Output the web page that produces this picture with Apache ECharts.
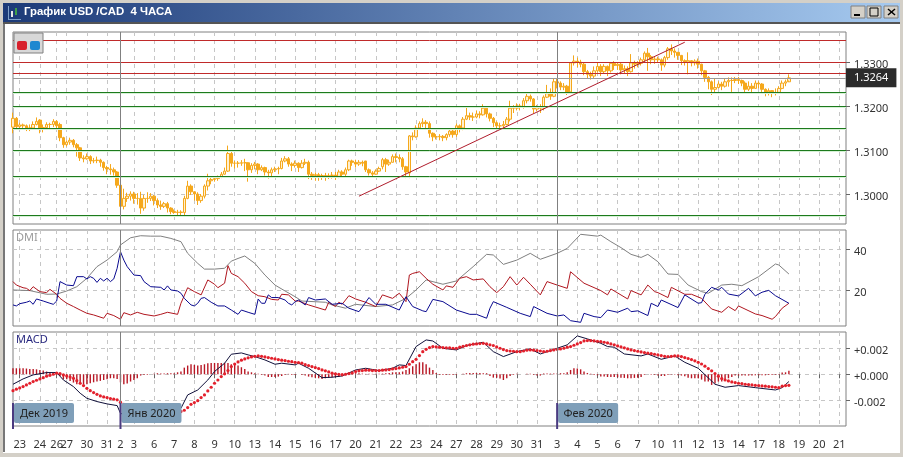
<!DOCTYPE html>
<html>
<head>
<meta charset="utf-8">
<style>html,body{margin:0;padding:0;background:#fff}#chart{width:903px;height:457px}</style>
<script src="https://cdn.jsdelivr.net/npm/echarts@6/dist/echarts.min.js"></script>
</head>
<body>
<div id="chart"></div>
<script>
// 4H bars, one slot per bar. data stops at bar 231, the rest of the axis is empty
var slotCount = 249;
var tickIndex = [2,8,13,16,22,28,32,36,42,48,54,60,66,72,78,84,90,96,102,108,114,120,126,132,138,144,150,156,162,168,174,180,186,192,198,204,210,216,222,228,234,240,246];
var tickLabels = ['23','24','26','27','30','31','2','3','6','7','8','9','10','13','14','15','16','17','20','21','22','23','24','27','28','29','30','31','3','4','5','6','7','10','11','12','13','14','17','18','19','20','21'];
var monthIndex = [0,32,162];
var monthNames = ['Дек 2019','Янв 2020','Фев 2020'];

var opens = [1.3152,1.3172,1.3153,1.3157,1.3155,1.3150,1.3150,1.3158,1.3168,1.3150,1.3151,1.3158,
1.3158,1.3165,1.3158,1.3128,1.3112,1.3118,1.3122,1.3112,1.3105,1.3082,1.3080,1.3085,
1.3075,1.3076,1.3077,1.3072,1.3060,1.3057,1.3055,1.3050,1.3020,1.2972,1.2990,1.2995,
1.3000,1.2990,1.2990,1.2968,1.2990,1.2990,1.2995,1.2985,1.2975,1.2972,1.2978,1.2968,
1.2960,1.2958,1.2959,1.2958,1.2990,1.3018,1.3005,1.3000,1.2985,1.2995,1.3018,1.3030,
1.3033,1.3035,1.3038,1.3045,1.3052,1.3092,1.3070,1.3070,1.3070,1.3071,1.3071,1.3055,
1.3065,1.3068,1.3055,1.3060,1.3050,1.3048,1.3055,1.3057,1.3058,1.3075,1.3080,1.3068,
1.3065,1.3070,1.3060,1.3070,1.3072,1.3045,1.3042,1.3044,1.3040,1.3042,1.3039,1.3042,
1.3043,1.3040,1.3050,1.3045,1.3055,1.3075,1.3072,1.3068,1.3072,1.3075,1.3055,1.3048,
1.3045,1.3052,1.3062,1.3078,1.3068,1.3072,1.3085,1.3083,1.3080,1.3062,1.3048,1.3132,
1.3130,1.3150,1.3160,1.3163,1.3160,1.3138,1.3130,1.3130,1.3131,1.3128,1.3135,1.3143,
1.3135,1.3155,1.3150,1.3170,1.3178,1.3175,1.3175,1.3182,1.3180,1.3195,1.3182,1.3172,
1.3162,1.3155,1.3155,1.3158,1.3170,1.3195,1.3195,1.3200,1.3198,1.3212,1.3222,1.3216,
1.3193,1.3198,1.3195,1.3220,1.3228,1.3222,1.3255,1.3252,1.3243,1.3245,1.3232,1.3298,
1.3302,1.3300,1.3295,1.3278,1.3272,1.3268,1.3280,1.3290,1.3278,1.3290,1.3280,1.3297,
1.3292,1.3295,1.3282,1.3285,1.3278,1.3298,1.3295,1.3297,1.3305,1.3320,1.3312,1.3305,
1.3307,1.3305,1.3293,1.3310,1.3330,1.3325,1.3322,1.3315,1.3303,1.3300,1.3303,1.3298,
1.3302,1.3295,1.3280,1.3265,1.3255,1.3238,1.3242,1.3250,1.3245,1.3255,1.3258,1.3258,
1.3260,1.3258,1.3252,1.3238,1.3245,1.3240,1.3252,1.3250,1.3238,1.3232,1.3235,1.3230,
1.3231,1.3240,1.3252,1.3255];
var closes = [1.3172,1.3153,1.3157,1.3155,1.3150,1.3150,1.3158,1.3165,1.3150,1.3151,1.3158,1.3158,
1.3165,1.3155,1.3128,1.3112,1.3118,1.3122,1.3112,1.3105,1.3082,1.3080,1.3085,1.3075,
1.3076,1.3077,1.3072,1.3060,1.3057,1.3055,1.3050,1.3020,1.2972,1.2990,1.2995,1.3000,
1.2990,1.2990,1.2968,1.2990,1.2990,1.2995,1.2985,1.2975,1.2972,1.2978,1.2968,1.2960,
1.2958,1.2959,1.2958,1.2990,1.3018,1.3005,1.3000,1.2985,1.2995,1.3018,1.3030,1.3033,
1.3035,1.3038,1.3045,1.3052,1.3092,1.3070,1.3070,1.3070,1.3071,1.3071,1.3055,1.3065,
1.3068,1.3055,1.3060,1.3050,1.3048,1.3055,1.3057,1.3058,1.3075,1.3080,1.3068,1.3065,
1.3070,1.3060,1.3070,1.3072,1.3045,1.3042,1.3044,1.3040,1.3042,1.3039,1.3042,1.3043,
1.3040,1.3050,1.3045,1.3055,1.3075,1.3072,1.3068,1.3072,1.3070,1.3055,1.3048,1.3045,
1.3052,1.3058,1.3078,1.3068,1.3072,1.3085,1.3083,1.3080,1.3062,1.3050,1.3132,1.3130,
1.3150,1.3160,1.3163,1.3160,1.3138,1.3130,1.3130,1.3131,1.3128,1.3135,1.3143,1.3135,
1.3155,1.3150,1.3170,1.3178,1.3175,1.3175,1.3182,1.3180,1.3195,1.3182,1.3172,1.3162,
1.3155,1.3155,1.3158,1.3170,1.3195,1.3195,1.3200,1.3198,1.3212,1.3222,1.3216,1.3193,
1.3198,1.3195,1.3220,1.3228,1.3222,1.3255,1.3252,1.3243,1.3245,1.3232,1.3298,1.3302,
1.3300,1.3295,1.3278,1.3272,1.3268,1.3280,1.3290,1.3278,1.3290,1.3280,1.3297,1.3292,
1.3295,1.3282,1.3285,1.3278,1.3298,1.3295,1.3297,1.3305,1.3320,1.3312,1.3305,1.3307,
1.3305,1.3293,1.3310,1.3330,1.3325,1.3322,1.3315,1.3303,1.3300,1.3303,1.3298,1.3302,
1.3295,1.3280,1.3265,1.3255,1.3238,1.3242,1.3250,1.3245,1.3255,1.3258,1.3258,1.3260,
1.3258,1.3252,1.3238,1.3245,1.3240,1.3252,1.3250,1.3238,1.3232,1.3235,1.3230,1.3231,
1.3240,1.3252,1.3255,1.3264];
var lows = [1.3138,1.3148,1.3148,1.3146,1.3143,1.3143,1.3146,1.3156,1.3138,1.3140,1.3150,1.3150,
1.3152,1.3148,1.3120,1.3105,1.3108,1.3112,1.3106,1.3085,1.3075,1.3072,1.3078,1.3068,
1.3070,1.3070,1.3062,1.3053,1.3045,1.3044,1.3042,1.3014,1.2965,1.2965,1.2982,1.2985,
1.2978,1.2976,1.2955,1.2962,1.2980,1.2984,1.2974,1.2968,1.2964,1.2968,1.2958,1.2954,
1.2955,1.2952,1.2950,1.2948,1.2988,1.2998,1.2985,1.2975,1.2980,1.2990,1.3008,1.3022,
1.3028,1.3030,1.3036,1.3044,1.3050,1.3062,1.3058,1.3060,1.3064,1.3052,1.3028,1.3048,
1.3056,1.3045,1.3052,1.3042,1.3035,1.3040,1.3050,1.3045,1.3056,1.3072,1.3062,1.3052,
1.3060,1.3050,1.3058,1.3066,1.3034,1.3032,1.3030,1.3030,1.3032,1.3030,1.3034,1.3035,
1.3032,1.3036,1.3038,1.3040,1.3052,1.3064,1.3060,1.3064,1.3063,1.3050,1.3042,1.3040,
1.3044,1.3050,1.3056,1.3050,1.3064,1.3072,1.3072,1.3072,1.3055,1.3036,1.3036,1.3122,
1.3128,1.3148,1.3152,1.3150,1.3128,1.3120,1.3124,1.3122,1.3120,1.3122,1.3130,1.3128,
1.3130,1.3140,1.3145,1.3168,1.3168,1.3166,1.3172,1.3172,1.3178,1.3174,1.3165,1.3152,
1.3148,1.3148,1.3150,1.3156,1.3165,1.3184,1.3190,1.3190,1.3194,1.3206,1.3210,1.3183,
1.3188,1.3184,1.3190,1.3218,1.3214,1.3220,1.3240,1.3236,1.3236,1.3225,1.3228,1.3292,
1.3288,1.3288,1.3270,1.3262,1.3260,1.3262,1.3276,1.3268,1.3274,1.3268,1.3276,1.3282,
1.3282,1.3272,1.3275,1.3268,1.3276,1.3285,1.3288,1.3292,1.3300,1.3280,1.3295,1.3296,
1.3298,1.3280,1.3288,1.3305,1.3316,1.3310,1.3305,1.3293,1.3292,1.3272,1.3290,1.3292,
1.3285,1.3270,1.3255,1.3238,1.3225,1.3228,1.3240,1.3236,1.3242,1.3244,1.3232,1.3252,
1.3250,1.3245,1.3230,1.3234,1.3228,1.3240,1.3240,1.3232,1.3222,1.3224,1.3220,1.3224,
1.3228,1.3238,1.3245,1.3258];
var highs = [1.3185,1.3175,1.3162,1.3160,1.3158,1.3158,1.3165,1.3174,1.3170,1.3158,1.3163,1.3162,
1.3170,1.3168,1.3162,1.3130,1.3122,1.3128,1.3125,1.3116,1.3107,1.3088,1.3092,1.3088,
1.3082,1.3085,1.3080,1.3074,1.3064,1.3068,1.3060,1.3052,1.3024,1.3012,1.3003,1.3006,
1.3005,1.3002,1.3005,1.2998,1.3004,1.3002,1.2998,1.2990,1.2985,1.2982,1.2982,1.2970,
1.2965,1.2964,1.2963,1.2996,1.3030,1.3022,1.3006,1.3004,1.3000,1.3022,1.3046,1.3038,
1.3038,1.3042,1.3050,1.3060,1.3110,1.3096,1.3075,1.3075,1.3077,1.3080,1.3072,1.3070,
1.3073,1.3070,1.3065,1.3062,1.3055,1.3060,1.3062,1.3062,1.3082,1.3086,1.3084,1.3072,
1.3076,1.3072,1.3077,1.3080,1.3076,1.3050,1.3049,1.3048,1.3046,1.3048,1.3047,1.3050,
1.3050,1.3055,1.3054,1.3060,1.3078,1.3078,1.3078,1.3077,1.3076,1.3074,1.3058,1.3052,
1.3056,1.3062,1.3082,1.3082,1.3078,1.3090,1.3092,1.3090,1.3084,1.3064,1.3134,1.3140,
1.3156,1.3165,1.3172,1.3168,1.3165,1.3140,1.3136,1.3136,1.3134,1.3138,1.3148,1.3147,
1.3160,1.3158,1.3175,1.3200,1.3185,1.3185,1.3190,1.3188,1.3204,1.3200,1.3185,1.3175,
1.3165,1.3162,1.3166,1.3175,1.3212,1.3202,1.3206,1.3205,1.3218,1.3228,1.3226,1.3218,
1.3202,1.3204,1.3224,1.3248,1.3240,1.3262,1.3262,1.3256,1.3252,1.3248,1.3300,1.3315,
1.3310,1.3305,1.3298,1.3282,1.3278,1.3290,1.3298,1.3295,1.3295,1.3292,1.3300,1.3302,
1.3300,1.3298,1.3292,1.3290,1.3318,1.3303,1.3302,1.3310,1.3324,1.3332,1.3316,1.3312,
1.3312,1.3308,1.3314,1.3334,1.3340,1.3331,1.3322,1.3316,1.3306,1.3322,1.3304,1.3306,
1.3308,1.3296,1.3282,1.3268,1.3258,1.3262,1.3256,1.3255,1.3262,1.3265,1.3265,1.3266,
1.3266,1.3260,1.3256,1.3256,1.3252,1.3258,1.3256,1.3252,1.3240,1.3240,1.3236,1.3240,
1.3245,1.3258,1.3260,1.3272];

// horizontal support/resistance lines on the price panel
var redLevels = [1.33489,1.33,1.3275];
var greenLevels = [1.32307,1.3199,1.31489,1.30989,1.30398,1.29523];
var lastPrice = 1.3264;
var trendFrom = [103,1.2995];
var trendTo = [200,1.3345];

// DMI: [bar, value] read at the line's corners
var adxPoints = [[0,20],[5,19.7],[10,17.9],[13,18],[16,19.5],[19,21.6],[22,25.7],[25,31.4],[28,34.6],[31,38.7],[32,42],[35,45.5],[38,46.5],[41,46.3],[44,46.3],[47,45.2],[50,43.6],[52,37.9],[55,33],[57,30.2],[60,30.2],[63,30.6],[65,34.1],[67,35.4],[69,36.6],[72,33],[75,27.3],[78,22.4],[81,19.5],[84,16.7],[86,14.6],[93,14],[95,12.7],[99,11.1],[102,13],[108,11.9],[113,12.7],[117,15.9],[120,20],[123,24.9],[128,22.8],[132,24.4],[137,31.4],[141,37.4],[143,37.1],[146,32.5],[150,34.6],[154,37.9],[157,35],[162,37.9],[165,40.3],[169,47.2],[174,46.3],[175,46.8],[178,43.6],[181,40.7],[184,37.4],[187,35.9],[189,37.4],[192,33.8],[195,27.8],[198,27.6],[201,22.4],[205,19.2],[207,18.4],[211,22.4],[214,22.8],[217,22.1],[222,26.5],[227,32.7],[228,32.2],[231,27.8]];
var minusDiPoints = [[0,12.7],[1,12.2],[2,13.3],[4,14],[5,14.6],[6,13],[7,15.6],[9,14.6],[11,13.5],[12,13],[13,14.6],[14,24.1],[16,22.4],[18,22.1],[19,26.5],[21,26.5],[22,25.4],[23,26.5],[24,25.7],[25,23.7],[26,25.7],[27,24.4],[28,25.7],[29,24.1],[30,25.4],[31,30.6],[32,38.7],[33,34.6],[34,31.4],[36,27.3],[38,27],[39,24.1],[41,21.6],[44,21.3],[45,20],[46,22],[47,20],[49,19.5],[50,18.4],[51,15.9],[53,12.7],[54,12.2],[55,13.5],[56,15.9],[57,16.3],[59,14],[61,12.2],[63,12.2],[65,10.2],[67,8.1],[68,10.2],[70,9.1],[72,8.1],[73,15.6],[74,13.5],[75,13.5],[76,17.6],[77,16.3],[79,16.3],[81,15.1],[82,13.5],[83,12.7],[84,14.3],[85,15.1],[87,12.7],[88,16.3],[90,15.1],[93,15.6],[95,13],[98,13.5],[100,11.1],[103,9.4],[106,16.3],[108,13],[111,13],[115,10.2],[117,16.7],[119,11.9],[122,9.8],[123,9.4],[125,15.4],[128,14.3],[132,10.2],[136,8.1],[138,8.1],[141,6.2],[142,11.1],[143,14.3],[147,11.5],[151,8.6],[154,7],[155,11.9],[159,8.6],[162,7.3],[164,7.8],[166,5],[169,4.2],[170,8.6],[173,7],[175,6.5],[177,10.2],[180,9.1],[183,11.1],[184,9.4],[186,9.8],[189,7.5],[190,13.5],[192,11.9],[193,15.1],[198,11.4],[200,17.6],[204,13.5],[205,13.8],[206,17.9],[208,21.3],[210,20],[211,21.3],[213,18],[216,17.1],[219,20.8],[221,17.1],[223,18.9],[225,19.8],[227,17.2],[231,13.5]];
var plusDiPoints = [[0,24.1],[1,22.4],[3,21.1],[4,20.8],[5,19.7],[6,21.6],[8,19.2],[10,18.7],[11,20.3],[13,17.9],[14,15.9],[16,13.5],[18,11.9],[20,10.2],[22,8.6],[24,7.8],[27,6.2],[28,8.6],[30,7.5],[32,5.7],[33,8.9],[35,7.8],[37,9.1],[39,8.1],[42,7.3],[44,8.1],[46,9.1],[49,8.1],[50,13.5],[52,21.1],[54,19.2],[56,17.6],[58,24.9],[60,22.8],[61,21.1],[63,23.3],[64,31.9],[65,28.1],[67,26.5],[69,23.3],[71,19.2],[73,17.2],[75,16.7],[77,15.4],[79,15.1],[80,17.9],[82,17.6],[84,14.6],[85,14.6],[88,12.7],[93,10.2],[94,14],[96,11.9],[97,14],[98,13],[100,17.2],[102,15.6],[105,14],[108,11.9],[110,17.6],[113,15.9],[115,18.4],[117,14.3],[118,27.3],[119,28.1],[121,28.9],[123,25.7],[125,22.8],[128,20],[129,22],[131,21.3],[133,25.7],[135,26.5],[137,24.9],[140,25.4],[142,21.6],[144,18.7],[146,21.6],[148,26.5],[150,22.4],[152,26.2],[154,22.8],[157,17.6],[159,24.1],[162,22.4],[165,20.8],[166,28.9],[170,23.3],[175,19.7],[177,17.6],[178,20.5],[183,15.6],[184,19.7],[187,17.6],[189,22.4],[191,19.2],[192,18.7],[195,16.3],[196,21.3],[200,17.9],[202,17.9],[205,15.9],[208,10.7],[211,9.1],[213,11.9],[215,9.9],[216,12.2],[221,8.3],[223,7.5],[226,5.7],[227,7],[229,11.1],[231,13.5]];

// MACD line, [bar, value] at corners; part of it sits behind the month labels
var macdPoints = [[0,-0.00077],[3,-0.00036],[6,-0.00005],[10,0.00013],[13,0.00013],[15,-0.00044],[18,-0.00095],[20,-0.00146],[22,-0.00185],[25,-0.0021],[28,-0.00228],[31,-0.00241],[32,-0.003],[36,-0.00338],[42,-0.00351],[47,-0.00326],[50,-0.00262],[52,-0.00159],[55,-0.00121],[58,-0.00044],[60,0.00021],[63,0.00085],[65,0.00154],[68,0.00164],[70,0.00149],[72,0.00136],[75,0.0011],[78,0.00077],[80,0.00085],[84,0.00072],[85,0.00085],[88,0.00046],[92,-0.00026],[95,-0.00023],[98,-0.00013],[102,0.00033],[105,0.00046],[109,0.00028],[113,0.00046],[115,0.00072],[117,0.00067],[120,0.00213],[123,0.00264],[125,0.00256],[128,0.002],[132,0.00187],[135,0.00221],[140,0.00246],[143,0.00174],[146,0.00136],[150,0.00174],[154,0.00195],[157,0.00156],[162,0.002],[165,0.00226],[168,0.00295],[171,0.00272],[175,0.00238],[177,0.00213],[179,0.00208],[182,0.00156],[187,0.00141],[189,0.00156],[193,0.00115],[197,0.00141],[200,0.00092],[204,0.00046],[209,-0.00077],[212,-0.001],[216,-0.00087],[221,-0.00103],[227,-0.00121],[229,-0.00103],[231,-0.00056]];
var signalValues = [-0.00126,-0.00115,-0.00105,-0.00095,-0.00082,-0.00069,-0.00056,-0.00046,-0.00036,-0.00026,-0.00015,-0.00008,0,0.00008,0.00005,-0.00005,-0.00013,-0.00021,-0.00031,-0.00049,-0.00069,-0.00087,-0.00108,-0.00126,-0.00141,-0.00154,-0.00167,-0.00174,-0.00179,-0.00187,-0.00192,-0.00197,-0.00215,-0.00231,-0.00244,-0.00256,-0.00267,-0.00277,-0.00287,-0.00295,-0.00303,-0.00308,-0.00313,-0.00315,-0.00315,-0.00313,-0.0031,-0.00305,-0.003,-0.00292,-0.00287,-0.00277,-0.00256,-0.00231,-0.00218,-0.00203,-0.00179,-0.00159,-0.00128,-0.001,-0.00069,-0.00044,-0.00018,0.00003,0.00028,0.00059,0.00079,0.00095,0.00108,0.00118,0.00126,0.00133,0.00138,0.00141,0.00138,0.00133,0.00128,0.00123,0.00118,0.00113,0.00108,0.00105,0.001,0.00097,0.00092,0.0009,0.00085,0.00074,0.00067,0.00059,0.00051,0.00044,0.00033,0.00026,0.00018,0.00008,0.00003,0,-0.00003,0,0.00005,0.0001,0.00021,0.00026,0.00028,0.00031,0.00031,0.00028,0.00028,0.00028,0.00031,0.00033,0.00036,0.00041,0.00044,0.00049,0.00054,0.00059,0.00077,0.00097,0.00115,0.00144,0.00174,0.00192,0.00205,0.00213,0.0021,0.00208,0.00205,0.00203,0.00203,0.002,0.002,0.00208,0.00215,0.00221,0.00226,0.00231,0.00233,0.00236,0.00238,0.00233,0.00226,0.00221,0.0021,0.002,0.0019,0.00182,0.00179,0.00177,0.00174,0.00174,0.00179,0.00185,0.00187,0.00185,0.00182,0.00179,0.00174,0.00177,0.00182,0.00187,0.00192,0.00195,0.002,0.00208,0.00213,0.00223,0.00233,0.00244,0.00256,0.00259,0.00259,0.00256,0.00254,0.00251,0.00246,0.00241,0.00233,0.00226,0.00218,0.0021,0.00203,0.00195,0.00187,0.00182,0.00177,0.00172,0.00167,0.00162,0.00159,0.00154,0.00149,0.00144,0.00138,0.00136,0.00138,0.00141,0.00141,0.00136,0.00128,0.00121,0.00113,0.00103,0.00092,0.00079,0.00062,0.00044,0.00026,0.00005,-0.00015,-0.00033,-0.00044,-0.00051,-0.00059,-0.00064,-0.00069,-0.00072,-0.00077,-0.00079,-0.00082,-0.00085,-0.00087,-0.0009,-0.00092,-0.00095,-0.00097,-0.001,-0.00103,-0.00092,-0.00087,-0.00085];
var histValues = [0.00046,0.00046,0.00046,0.00046,0.00044,0.00041,0.00041,0.00038,0.00033,0.00028,0.00021,0.00013,0.00008,0.00003,-0.00013,-0.00038,-0.00038,-0.00051,-0.00064,-0.00077,-0.00077,-0.00077,-0.00077,-0.00069,-0.00062,-0.00056,-0.00051,-0.00044,-0.00038,-0.00031,-0.00031,-0.00036,-0.00062,-0.00077,-0.00072,-0.00056,-0.00044,-0.00031,-0.0001,-0.00005,-0.00005,0,0.00003,0.00008,0.00005,0.00005,0.00008,0.00008,0.00008,0.00015,0.00021,0.00051,0.00067,0.00077,0.00072,0.00067,0.00072,0.00077,0.00085,0.00087,0.00087,0.00087,0.00087,0.00087,0.00087,0.00077,0.00072,0.00067,0.00054,0.00041,0.00021,0.00015,0.00008,0.00003,-0.00005,-0.0001,-0.00021,-0.00021,-0.00021,-0.00018,-0.00013,-0.00005,0.00003,-0.00005,-0.00005,0,-0.00005,-0.0001,-0.00018,-0.00023,-0.00026,-0.00031,-0.00036,-0.00031,-0.00026,-0.00023,-0.00021,-0.00021,-0.00015,-0.00008,0.00005,0.00008,0.00008,0.00008,0.00005,0.00003,0.00003,0.00003,0.00003,0.00003,0.00005,0.00008,0.0001,0.00015,0.00015,0.00015,0.00021,0.00033,0.00046,0.00062,0.00077,0.00092,0.00092,0.00077,0.00051,0.00033,0.0001,-0.00005,-0.00005,-0.00005,-0.00005,-0.00005,-0.00005,0,0.00003,0.00008,0.0001,0.0001,0.0001,0.0001,0.00008,0.00008,-0.00013,-0.00026,-0.00026,-0.00033,-0.00044,-0.00031,-0.00013,-0.00005,0.00003,0,0,0.00003,0.00003,-0.00005,-0.0001,-0.0001,0.00005,0.00005,0.00005,0.00005,0.00005,0.00008,0.00008,0.00015,0.00033,0.00046,0.00044,0.00038,0.00021,0.0001,0.00003,-0.00005,-0.00008,-0.00018,-0.00018,-0.00021,-0.00021,-0.00021,-0.00023,-0.00026,-0.00028,-0.00031,-0.00031,-0.00028,-0.00026,-0.00021,-0.00005,0,-0.00003,-0.00005,-0.0001,-0.00013,-0.00013,-0.00005,-0.00003,-0.00003,-0.00008,-0.0001,-0.00015,-0.00026,-0.00031,-0.00031,-0.00031,-0.00041,-0.00056,-0.00056,-0.00082,-0.00072,-0.00056,-0.00056,-0.00038,-0.00031,-0.00021,-0.0001,-0.0001,-0.0001,-0.0001,-0.0001,-0.0001,-0.00008,-0.00008,-0.00008,-0.00008,-0.00005,-0.00005,-0.00005,-0.00003,0.00013,0.00015,0.00026];

var candleOrange = '#f5a81c';
var gridDash = '#c6c6c6';
var panelBorder = '#808080';

var categories = [];
for (var n = 0; n < slotCount; n++) categories.push(String(n));

var candleData = [];
for (var c = 0; c < closes.length; c++) {
    candleData.push([opens[c], closes[c], lows[c], highs[c]]);
}

function isTick(index) {
    return tickIndex.indexOf(index) >= 0;
}

// the three panels share the same x layout
function makeXAxis(gridIndex, showLabels) {
    return {
        type: 'category',
        gridIndex: gridIndex,
        data: categories,
        boundaryGap: false,
        axisLine: { show: false },
        axisTick: { show: showLabels, length: 4, interval: isTick, lineStyle: { color: '#666' } },
        axisLabel: {
            show: showLabels, interval: isTick, margin: 13, color: '#333',
            fontFamily: 'Noto Sans', fontSize: 11, hideOverlap: false,
            formatter: function (value) {
                return tickLabels[tickIndex.indexOf(Number(value))];
            }
        },
        splitLine: { show: true, interval: isTick, lineStyle: { color: gridDash, type: [4, 4], width: 1 } }
    };
}

function makeYAxis(gridIndex, min, max, values, format) {
    return {
        type: 'value',
        gridIndex: gridIndex,
        position: 'right',
        min: min,
        max: max,
        axisLine: { show: false },
        axisTick: { show: true, length: 4, customValues: values, lineStyle: { color: '#666' } },
        axisLabel: {
            color: '#333', fontFamily: 'Noto Sans', fontSize: 11, margin: 8,
            // labels sit a little under their tick
            customValues: values, verticalAlign: 'top', lineHeight: 6, formatter: format
        },
        splitLine: { show: true, lineStyle: { color: gridDash, type: [4, 4], width: 1 } }
    };
}

function monthLines() {
    return {
        silent: true, symbol: 'none', animation: false,
        label: { show: false },
        lineStyle: { color: '#808080', type: 'solid', width: 1 },
        data: [{ xAxis: monthIndex[1] }, { xAxis: monthIndex[2] }]
    };
}

var priceLines = [];
redLevels.forEach(function (v) {
    priceLines.push({ yAxis: v, lineStyle: { color: '#c02a2a', type: 'solid', width: 1 }, label: { show: false } });
});
greenLevels.forEach(function (v) {
    priceLines.push({
        yAxis: v,
        lineStyle: { color: '#1d7a1d', type: 'solid', width: 1, shadowColor: '#d6f2d6', shadowOffsetY: 1, shadowBlur: 0 },
        label: { show: false }
    });
});
priceLines.push({ xAxis: monthIndex[1], lineStyle: { color: '#808080', type: 'solid', width: 1 }, label: { show: false } });
priceLines.push({ xAxis: monthIndex[2], lineStyle: { color: '#808080', type: 'solid', width: 1 }, label: { show: false } });
priceLines.push({
    yAxis: lastPrice,
    lineStyle: { color: '#9a9a9a', type: 'solid', width: 1 },
    label: {
        show: true, position: 'end', distance: 0, formatter: lastPrice.toFixed(4),
        color: '#fff', backgroundColor: '#2b2b2b', padding: [4, 8, 4, 8],
        fontFamily: 'Noto Sans', fontSize: 11
    }
});
priceLines.push([
    { coord: trendFrom, lineStyle: { color: '#b01c2c', type: 'solid', width: 1 }, label: { show: false } },
    { coord: trendTo }
]);

var chart = echarts.init(document.getElementById('chart'));

var option = {
    animation: false,
    backgroundColor: '#fff',
    grid: [
        { left: 13, right: 57, top: 32, height: 192, show: true, borderColor: panelBorder, borderWidth: 1, backgroundColor: 'transparent' },
        { left: 13, right: 57, top: 230, height: 96, show: true, borderColor: panelBorder, borderWidth: 1, backgroundColor: 'transparent' },
        { left: 13, right: 57, top: 332, height: 94, show: true, borderColor: panelBorder, borderWidth: 1, backgroundColor: 'transparent' }
    ],
    xAxis: [makeXAxis(0, false), makeXAxis(1, false), makeXAxis(2, true)],
    yAxis: [
        makeYAxis(0, 1.29318, 1.33682, [1.30, 1.31, 1.32, 1.33], function (v) { return Number(v).toFixed(4); }),
        makeYAxis(1, 2.4, 49.3, [20, 40], function (v) { return String(Math.round(v)); }),
        makeYAxis(2, -0.00398, 0.00325, [-0.002, 0, 0.002], function (v) {
            var t = Number(v);
            if (Math.abs(t) < 1e-9) return '+0.000';
            return (t > 0 ? '+' : '') + t.toFixed(3);
        })
    ],
    series: [
        {
            type: 'candlestick', xAxisIndex: 0, yAxisIndex: 0, data: candleData, barWidth: 3,
            itemStyle: { color: '#fff0d0', color0: candleOrange, borderColor: candleOrange, borderColor0: candleOrange, borderWidth: 1 },
            markLine: { silent: true, symbol: 'none', animation: false, precision: 5, data: priceLines }
        },
        {
            type: 'line', xAxisIndex: 1, yAxisIndex: 1, data: adxPoints, symbol: 'none',
            lineStyle: { color: '#808080', width: 1 }, markLine: monthLines()
        },
        { type: 'line', xAxisIndex: 1, yAxisIndex: 1, data: plusDiPoints, symbol: 'none', lineStyle: { color: '#b0161f', width: 1 } },
        { type: 'line', xAxisIndex: 1, yAxisIndex: 1, data: minusDiPoints, symbol: 'none', lineStyle: { color: '#0a0a90', width: 1 } },
        {
            type: 'bar', xAxisIndex: 2, yAxisIndex: 2, data: histValues, barWidth: 1.4,
            itemStyle: { color: '#b81825' }, markLine: monthLines()
        },
        { type: 'line', xAxisIndex: 2, yAxisIndex: 2, data: macdPoints, symbol: 'none', lineStyle: { color: '#10103a', width: 1 } },
        {
            type: 'line', xAxisIndex: 2, yAxisIndex: 2, data: signalValues,
            symbol: 'circle', symbolSize: 3.2, showAllSymbol: true, lineStyle: { width: 0, opacity: 0 },
            itemStyle: { color: '#e3202c' }
        }
    ]
};
chart.setOption(option);

// window frame, buttons and month flags are drawn once the axes exist
var frame = [
    { type: 'rect', z: 200, shape: { x: 0, y: 0, width: 903, height: 3 }, style: { fill: '#d4d0c8' } },
    { type: 'rect', z: 200, shape: { x: 0, y: 0, width: 3, height: 457 }, style: { fill: '#d4d0c8' } },
    { type: 'rect', z: 200, shape: { x: 3, y: 22, width: 2, height: 430 }, style: { fill: '#777' } },
    { type: 'rect', z: 200, shape: { x: 900, y: 0, width: 3, height: 457 }, style: { fill: '#d4d0c8' } },
    { type: 'rect', z: 200, shape: { x: 0, y: 453, width: 903, height: 4 }, style: { fill: '#d4d0c8' } },
    { type: 'rect', z: 200, shape: { x: 3, y: 22, width: 897, height: 2 }, style: { fill: '#555' } },
    {
        type: 'rect', z: 201, shape: { x: 3, y: 3, width: 897, height: 19 },
        style: {
            fill: new echarts.graphic.LinearGradient(0, 0, 1, 0, [
                { offset: 0, color: '#1c3a78' }, { offset: 1, color: '#a6caf0' }
            ])
        }
    },
    { type: 'text', z: 202, style: { x: 24, y: 12, text: 'График USD /CAD  4 ЧАСА', fill: '#fff', font: 'bold 11.4px "Liberation Sans"', verticalAlign: 'middle' } },
    // chart icon in the title bar
    { type: 'rect', z: 202, shape: { x: 8, y: 6, width: 1, height: 14 }, style: { fill: '#7fa0c8' } },
    { type: 'rect', z: 202, shape: { x: 8, y: 19, width: 13, height: 1 }, style: { fill: '#7fa0c8' } },
    { type: 'rect', z: 202, shape: { x: 11, y: 11, width: 2, height: 6 }, style: { fill: '#e8e8e8' } },
    { type: 'rect', z: 202, shape: { x: 15, y: 8, width: 2, height: 7 }, style: { fill: '#3fa04a' } },
    // min / max / close
    { type: 'rect', z: 202, shape: { x: 851, y: 6, width: 14, height: 12 }, style: { fill: '#d4d0c8', stroke: '#808080', lineWidth: 1 } },
    { type: 'rect', z: 203, shape: { x: 854, y: 14, width: 6, height: 2 }, style: { fill: '#000' } },
    { type: 'rect', z: 202, shape: { x: 867, y: 6, width: 14, height: 12 }, style: { fill: '#d4d0c8', stroke: '#808080', lineWidth: 1 } },
    { type: 'rect', z: 203, shape: { x: 870, y: 8, width: 8, height: 8 }, style: { fill: 'none', stroke: '#000', lineWidth: 1 } },
    { type: 'rect', z: 202, shape: { x: 884, y: 6, width: 14, height: 12 }, style: { fill: '#d4d0c8', stroke: '#808080', lineWidth: 1 } },
    { type: 'line', z: 203, shape: { x1: 888, y1: 9, x2: 895, y2: 15 }, style: { stroke: '#000', lineWidth: 1.5 } },
    { type: 'line', z: 203, shape: { x1: 895, y1: 9, x2: 888, y2: 15 }, style: { stroke: '#000', lineWidth: 1.5 } },
    // red and blue toggle box on the price panel
    { type: 'rect', z: 150, shape: { x: 14, y: 33, width: 29, height: 20 }, style: { fill: '#d8d8d8', stroke: '#808080', lineWidth: 1 } },
    { type: 'rect', z: 151, shape: { x: 17, y: 41, width: 10, height: 9, r: 2 }, style: { fill: '#d8202c' } },
    { type: 'rect', z: 151, shape: { x: 30, y: 41, width: 10, height: 9, r: 2 }, style: { fill: '#1e88d0' } },
    { type: 'text', z: 150, style: { x: 16, y: 238, text: 'DMI', fill: '#9a9a9a', font: '11px "Noto Sans"', verticalAlign: 'middle' } },
    { type: 'text', z: 150, style: { x: 16, y: 340, text: 'MACD', fill: '#2a2a80', font: '11px "Noto Sans"', verticalAlign: 'middle' } }
];

monthIndex.forEach(function (m, k) {
    var px = chart.convertToPixel({ xAxisIndex: 2 }, m);
    frame.push({ type: 'rect', z: 160, shape: { x: px + 1, y: 403, width: 60, height: 20, r: 2 }, style: { fill: '#7f9fb9' } });
    frame.push({ type: 'rect', z: 161, shape: { x: px - 1, y: 403, width: 2, height: 26 }, style: { fill: '#4a3a80' } });
    frame.push({ type: 'text', z: 162, style: { x: px + 31, y: 414, text: monthNames[k], fill: '#222', font: '11px "Noto Sans"', align: 'center', verticalAlign: 'middle' } });
});
chart.setOption({ graphic: frame });
</script>
</body>
</html>
